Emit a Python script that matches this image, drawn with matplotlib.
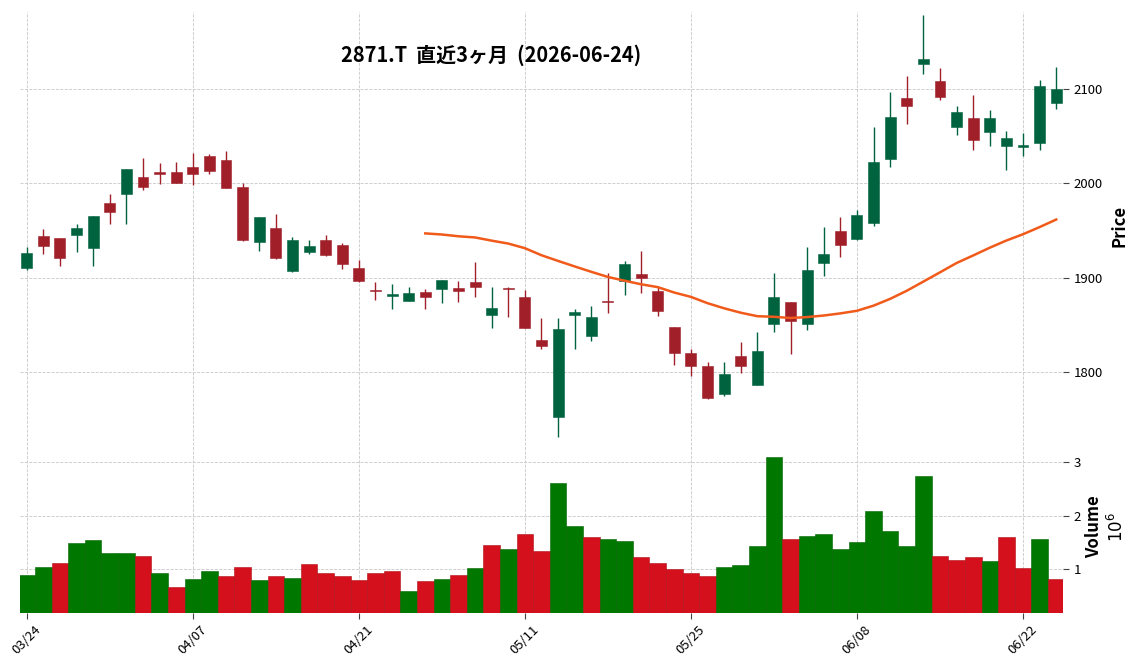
import numpy as np
import pandas as pd
import matplotlib
matplotlib.use("Agg")
import matplotlib.pyplot as plt

plt.rcParams["font.family"] = ["Noto Sans CJK JP", "DejaVu Sans"]
plt.rcParams["axes.unicode_minus"] = False

# データ
title = "2871.T  直近3ヶ月  (2026-06-24)"
holidays = ["2026-04-29", "2026-05-04", "2026-05-05", "2026-05-06"]
dates = pd.bdate_range("2026-03-24", "2026-06-24", freq="C", holidays=holidays)

opens = [1910, 1944, 1942, 1945, 1931, 1979, 1988, 2006, 2012, 2012,
         2017, 2029, 2024, 1996, 1938, 1953, 1907, 1927, 1940, 1935,
         1910, 1887, 1881, 1875, 1885, 1888, 1889, 1895, 1860, 1889,
         1880, 1834, 1753, 1860, 1838, 1875, 1896, 1904, 1886, 1848,
         1820, 1806, 1777, 1817, 1786, 1851, 1874, 1851, 1916, 1949,
         1941, 1958, 2025, 2090, 2126, 2108, 2059, 2069, 2054, 2039,
         2038, 2042, 2085]
highs = [1932, 1951, 1942, 1957, 1965, 1988, 2015, 2027, 2021, 2022,
         2032, 2031, 2034, 2000, 1964, 1967, 1943, 1940, 1945, 1937,
         1919, 1895, 1893, 1890, 1888, 1898, 1896, 1917, 1890, 1890,
         1887, 1857, 1857, 1867, 1870, 1905, 1918, 1928, 1890, 1848,
         1825, 1811, 1811, 1832, 1843, 1905, 1874, 1932, 1954, 1964,
         1972, 2059, 2096, 2113, 2178, 2122, 2082, 2093, 2077, 2055,
         2053, 2109, 2123]
lows = [1908, 1925, 1912, 1927, 1912, 1957, 1957, 1993, 1999, 2000,
        1998, 2010, 1995, 1939, 1928, 1920, 1906, 1925, 1923, 1909,
        1895, 1876, 1867, 1875, 1867, 1873, 1874, 1880, 1847, 1858,
        1847, 1824, 1731, 1825, 1833, 1863, 1882, 1884, 1859, 1808,
        1796, 1772, 1775, 1799, 1786, 1843, 1819, 1845, 1902, 1922,
        1940, 1955, 2017, 2063, 2115, 2088, 2051, 2035, 2039, 2014,
        2029, 2035, 2078]
closes = [1926, 1933, 1921, 1953, 1965, 1969, 2015, 1996, 2010, 2000,
          2010, 2013, 1995, 1940, 1964, 1921, 1940, 1933, 1924, 1914,
          1896, 1886, 1883, 1884, 1879, 1897, 1886, 1890, 1868, 1888,
          1847, 1828, 1846, 1864, 1858, 1874, 1914, 1900, 1865, 1820,
          1807, 1773, 1798, 1807, 1822, 1880, 1854, 1908, 1925, 1935,
          1966, 2022, 2070, 2082, 2131, 2091, 2075, 2046, 2069, 2048,
          2040, 2103, 2100]
volume_m = [0.90, 1.05, 1.125, 1.50, 1.55, 1.31, 1.31, 1.255, 0.92, 0.66,
            0.81, 0.975, 0.865, 1.05, 0.79, 0.865, 0.83, 1.09, 0.92, 0.865,
            0.79, 0.92, 0.96, 0.60, 0.77, 0.81, 0.90, 1.03, 1.46, 1.385,
            1.665, 1.35, 2.61, 1.81, 1.61, 1.57, 1.535, 1.235, 1.125, 0.995,
            0.92, 0.865, 1.05, 1.07, 1.44, 3.10, 1.57, 1.63, 1.665, 1.37,
            1.51, 2.09, 1.72, 1.44, 2.745, 1.255, 1.18, 1.235, 1.145, 1.61,
            1.03, 1.57, 0.81]
MA_WINDOW = 25

o = np.array(opens, float)
h = np.array(highs, float)
l = np.array(lows, float)
c = np.array(closes, float)
v = np.array(volume_m, float)
x = np.arange(len(c))
ma = pd.Series(c).rolling(MA_WINDOW).mean()

# 色
UP, DOWN = "#006340", "#a01f29"
VUP, VDOWN = "#007800", "#d3101b"
up = c >= o
prev = np.r_[o[0], c[:-1]]
vup = c >= prev

fig = plt.figure(figsize=(11.37, 6.70), dpi=100)
ax = fig.add_axes([0.0177, 0.3425, 0.9171, 0.6400])
axv = fig.add_axes([0.0177, 0.0851, 0.9171, 0.2574], sharex=ax)

# ローソク足
ax.vlines(x, l, h, colors=np.where(up, UP, DOWN), linewidth=1.0, zorder=2)
body_lo = np.minimum(o, c)
body_h = np.maximum(np.abs(c - o), 0.8)
ax.bar(x, body_h, 0.66, bottom=body_lo, color=np.where(up, UP, DOWN),
       edgecolor=np.where(up, UP, DOWN), linewidth=0.4, zorder=3)
ax.plot(x, ma, color="#f05a1a", linewidth=1.8, zorder=4)

rng = h.max() - l.min()
ax.set_ylim(l.min() - 0.0075 * rng, h.max() + 0.0075 * rng)
ax.set_xlim(-0.4, len(c) - 1 + 0.4)

# 出来高
vcol = np.where(vup, VUP, VDOWN)
axv.bar(x, v, 1.0, color=vcol, edgecolor=np.where(vup, "#006400", "#b00e17"),
        linewidth=0.4, zorder=2)
axv.set_ylim(0.3 * v.min(), 1.1 * v.max())
axv.set_yticks([1, 2, 3])

for a in (ax, axv):
    for s in a.spines.values():
        s.set_visible(False)
    a.grid(True, linestyle="--", color="#c8c8c8", linewidth=0.6, zorder=0)
    a.set_axisbelow(True)
    a.yaxis.tick_right()
    a.yaxis.set_label_position("right")
    a.tick_params(axis="y", length=4, color="#444444", labelsize=9.5, pad=4)

ax.set_yticks([1800, 1900, 2000, 2100])
ax.tick_params(axis="x", bottom=False, labelbottom=False)
ax.set_ylabel("Price", fontsize=12, fontweight="bold", labelpad=5)
axv.set_ylabel("Volume\n$10^{6}$", fontsize=12, fontweight="bold", labelpad=3)

ticks = x[::10]
axv.set_xticks(ticks)
axv.set_xticklabels([dates[i].strftime("%m/%d") for i in ticks], rotation=45)
axv.tick_params(axis="x", length=4, color="#444444", labelsize=9.5)

fig.text(0.432, 0.918, title, ha="center", va="center",
         fontsize=14.4, fontweight="bold")

fig.savefig("out.png", dpi=100)
